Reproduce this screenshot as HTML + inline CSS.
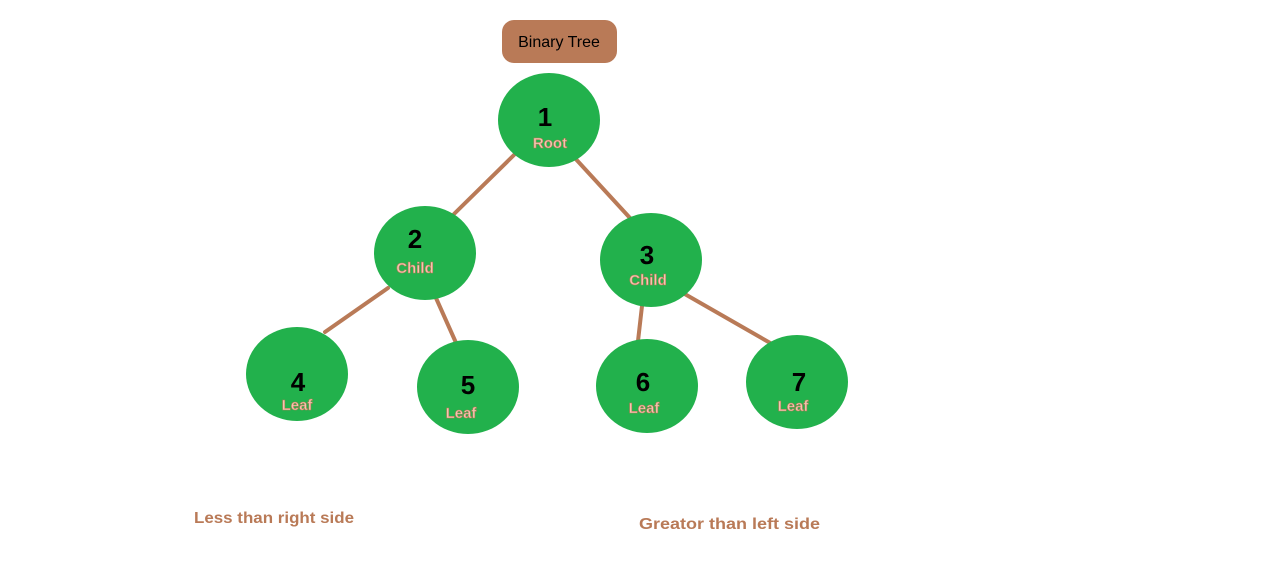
<!DOCTYPE html>
<html><head><meta charset="utf-8"><style>
html,body{margin:0;padding:0;background:#fff;}
svg{display:block;}
text{font-family:"Liberation Sans",sans-serif;font-weight:bold;}
</style></head><body>
<svg width="1279" height="587" viewBox="0 0 1279 587" xmlns="http://www.w3.org/2000/svg">
<rect width="1279" height="587" fill="#fff"/>
<rect x="502" y="20" width="115" height="43" rx="12" fill="#b97a57"/>
<text x="559" y="47" font-size="16" fill="#000" text-anchor="middle" style="font-weight:normal">Binary Tree</text>
<g stroke="#b97a57" stroke-width="4" stroke-linecap="round">
<line x1="516" y1="153" x2="454" y2="214"/>
<line x1="573" y1="156" x2="630" y2="218"/>
<line x1="388" y1="288" x2="325" y2="332"/>
<line x1="436" y1="298" x2="457" y2="345"/>
<line x1="642" y1="306" x2="638" y2="341"/>
<line x1="683" y1="293" x2="772" y2="344"/>
</g>
<g fill="#22b14c">
<ellipse cx="549" cy="120" rx="51" ry="47"/>
<ellipse cx="425" cy="253" rx="51" ry="47"/>
<ellipse cx="651" cy="260" rx="51" ry="47"/>
<ellipse cx="297" cy="374" rx="51" ry="47"/>
<ellipse cx="468" cy="387" rx="51" ry="47"/>
<ellipse cx="647" cy="386" rx="51" ry="47"/>
<ellipse cx="797" cy="382" rx="51" ry="47"/>
</g>
<g font-size="26" fill="#000" text-anchor="middle">
<text x="545" y="126">1</text>
<text x="415" y="248">2</text>
<text x="647" y="264">3</text>
<text x="298" y="391">4</text>
<text x="468" y="394">5</text>
<text x="643" y="391">6</text>
<text x="799" y="391">7</text>
</g>
<g font-size="15" fill="#f2c7b2" stroke="#b97a57" stroke-width="0.6" text-anchor="middle">
<text x="550" y="148">Root</text>
<text x="415" y="273">Child</text>
<text x="648" y="285">Child</text>
<text x="297" y="410">Leaf</text>
<text x="461" y="418">Leaf</text>
<text x="644" y="413">Leaf</text>
<text x="793" y="411">Leaf</text>
</g>
<text x="194" y="523" font-size="16" fill="#b97a57" textLength="160" lengthAdjust="spacingAndGlyphs">Less than right side</text>
<text x="639" y="529" font-size="16" fill="#b97a57" textLength="181" lengthAdjust="spacingAndGlyphs">Greator than left side</text>
</svg>
</body></html>
